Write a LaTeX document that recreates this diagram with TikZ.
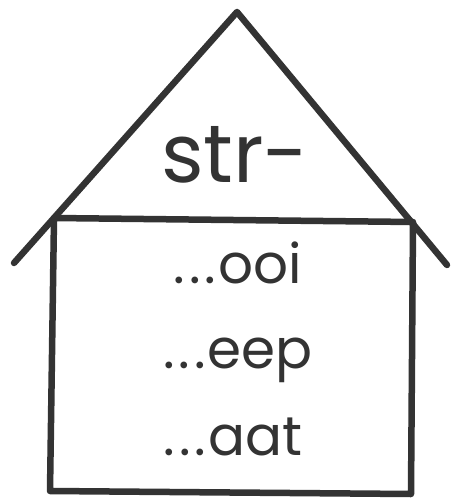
\documentclass[tikz,border=0pt]{standalone}
\usepackage{fontspec}
\setmainfont{Poppins}
\usetikzlibrary{positioning}
\newcommand{\spaceddots}{.\kern4bp.\kern4bp.\kern2bp}

\begin{document}
\begin{tikzpicture}[x=1bp, y=-1bp, line width=6.5bp, line cap=round, line join=round,
  pen/.style={draw=black!80},
  word/.style={anchor=base, text=black!80, inner sep=0pt, font=\fontsize{55}{60}\selectfont},
  stem/.style={word, font=\fontsize{82}{88}\selectfont}]
  \useasboundingbox (0,0) rectangle (451,501);
  % roof
  \coordinate (eaveL) at (14,263);
  \coordinate (apex) at (237,12);
  \coordinate (eaveR) at (447,265);
  \draw[pen] (eaveL) -- (apex) -- (eaveR);
  % walls
  \coordinate (wallNW) at (54,218);
  \coordinate (wallNE) at (413,222);
  \coordinate (wallSE) at (411,494);
  \coordinate (wallSW) at (50,491);
  \draw[pen] (wallNW) -- (wallNE) -- (wallSE) -- (wallSW) -- cycle;
  % words
  \node[stem] (str) at (235,183) {str-};
  \node[word] (ooi) at (238,283) {\spaceddots ooi};
  \node[word] (eep) at (238,368) {\spaceddots eep};
  \node[word] (aat) at (233,455) {\spaceddots aat};
\end{tikzpicture}
\end{document}
